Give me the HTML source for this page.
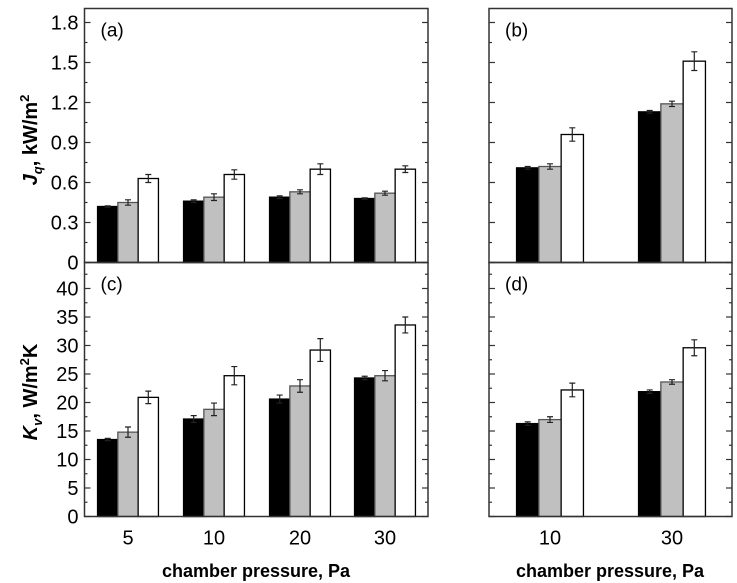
<!DOCTYPE html>
<html><head><meta charset="utf-8"><style>
body{margin:0;background:#fff;}
svg{display:block;font-family:"Liberation Sans",Arial,sans-serif;}
</style></head><body>
<svg id="chart" width="737" height="583" viewBox="0 0 737 583" xmlns="http://www.w3.org/2000/svg">
<g id="g"></g>
<text transform="translate(37,140) rotate(-90)" text-anchor="middle" font-size="20" font-weight="bold"><tspan font-style="italic">J</tspan><tspan font-size="13" dy="5" font-style="italic">q</tspan><tspan dy="-5">, kW/m</tspan><tspan font-size="13" dy="-8">2</tspan></text>
<text transform="translate(37,392) rotate(-90)" text-anchor="middle" font-size="20" font-weight="bold"><tspan font-style="italic">K</tspan><tspan font-size="13" dy="5" font-style="italic">v</tspan><tspan dy="-5">, W/m</tspan><tspan font-size="13" dy="-8">2</tspan><tspan dy="8">K</tspan></text>
<text x="256" y="577" text-anchor="middle" font-size="18" font-weight="bold">chamber pressure, Pa</text>
<text x="610" y="577" text-anchor="middle" font-size="18" font-weight="bold">chamber pressure, Pa</text>
</svg>
<script>
const catsLeft=["5","10","20","30"];
const catsRight=["10","30"];
const aBlack=[0.42,0.46,0.49,0.48], aBlackErr=[0.005,0.01,0.01,0.005];
const aGray=[0.45,0.49,0.53,0.52], aGrayErr=[0.02,0.025,0.015,0.015];
const aWhite=[0.63,0.66,0.70,0.70], aWhiteErr=[0.03,0.035,0.04,0.025];
const bBlack=[0.71,1.13], bBlackErr=[0.01,0.01];
const bGray=[0.72,1.19], bGrayErr=[0.02,0.02];
const bWhite=[0.96,1.51], bWhiteErr=[0.05,0.07];
const cBlack=[13.5,17.1,20.6,24.3], cBlackErr=[0.2,0.6,0.7,0.3];
const cGray=[14.8,18.8,22.9,24.7], cGrayErr=[0.9,1.1,1.1,0.9];
const cWhite=[20.9,24.7,29.2,33.6], cWhiteErr=[1.1,1.6,2.0,1.4];
const dBlack=[16.3,21.9], dBlackErr=[0.3,0.3];
const dGray=[17.0,23.6], dGrayErr=[0.5,0.4];
const dWhite=[22.2,29.6], dWhiteErr=[1.2,1.4];
const jqTicks=["0","0.3","0.6","0.9","1.2","1.5","1.8"];
const kvTicks=["0","5","10","15","20","25","30","35","40"];

const NS="http://www.w3.org/2000/svg";
const G=document.getElementById('g');
function el(t,a,p){const e=document.createElementNS(NS,t);for(const k in a)e.setAttribute(k,a[k]);(p||G).appendChild(e);return e;}

function panel(name,x0,x1,yTop,yBot,vmax,step,minor,ticks,showLabels,cats,centers,series,xlabels,letter){
  const y=v=>yBot-(v/vmax)*(yBot-yTop);
  const grp=el('g',{});
  
  
  const bw=(x1-x0)>300?20.3:22.3;
  const fills=["#000","#c0c0c0","#fff"], strokes=["#000","#555","#000"];
  const names=["black","gray","white"];
  series.forEach((s,si)=>{
    s.v.forEach((v,i)=>{
      const bx=centers[i]+(si-1.5)*bw;
      const r=el('rect',{x:bx,y:y(v),width:bw,height:yBot-y(v),fill:fills[si],stroke:strokes[si],'stroke-width':1.3},grp);
      
      
      const cx=bx+bw/2,e=s.e[i];
      const eb=el('path',{d:`M${cx},${y(v+e)}V${y(v-e)}M${cx-3},${y(v+e)}H${cx+3}M${cx-3},${y(v-e)}H${cx+3}`,stroke:'#222','stroke-width':1.2,fill:'none'},grp);
      
      
    });
  });
  const fr=el('rect',{x:x0,y:yTop,width:x1-x0,height:yBot-yTop,fill:'none',stroke:'#333','stroke-width':1.5},grp);
  
  
  for(let v=0;v<=vmax+1e-9;v+=minor){
    const yy=y(v);if(yy<yTop+1)continue;
    const major=Math.abs(v/step-Math.round(v/step))<1e-6;
    const L=major?6:3;
    el('line',{x1:x0,x2:x0+L,y1:yy,y2:yy,stroke:'#333','stroke-width':1.2},grp);
    el('line',{x1:x1,x2:x1-L,y1:yy,y2:yy,stroke:'#333','stroke-width':1.2},grp);
  }
  if(showLabels){ticks.forEach((t,i)=>{
    const tx=el('text',{x:x0-6,y:y(i*step)+7,'text-anchor':'end','font-size':20},grp);
    tx.textContent=t;
    
    
  });}
  if(xlabels){cats.forEach((c,i)=>{
    const tx=el('text',{x:centers[i],y:yBot+28,'text-anchor':'middle','font-size':20},grp);
    tx.textContent=c;
    
    
  });}
  const lt=el('text',{x:x0+16,y:yTop+28,'font-size':19},grp);
  lt.textContent=letter;
  
  
}
const cL=[128,214,300,385], cR=[550,672];
panel('a',84.5,428,8.5,262.5,1.905,0.3,0.15,jqTicks,true,catsLeft,cL,[{v:aBlack,e:aBlackErr},{v:aGray,e:aGrayErr},{v:aWhite,e:aWhiteErr}],false,'(a)');
panel('b',489,732,8.5,262.5,1.905,0.3,0.15,jqTicks,false,catsRight,cR,[{v:bBlack,e:bBlackErr},{v:bGray,e:bGrayErr},{v:bWhite,e:bWhiteErr}],false,'(b)');
panel('c',84.5,428,262.5,516.5,44.56,5,2.5,kvTicks,true,catsLeft,cL,[{v:cBlack,e:cBlackErr},{v:cGray,e:cGrayErr},{v:cWhite,e:cWhiteErr}],true,'(c)');
panel('d',489,732,262.5,516.5,44.56,5,2.5,kvTicks,false,catsRight,cR,[{v:dBlack,e:dBlackErr},{v:dGray,e:dGrayErr},{v:dWhite,e:dWhiteErr}],true,'(d)');
</script>
</body></html>
